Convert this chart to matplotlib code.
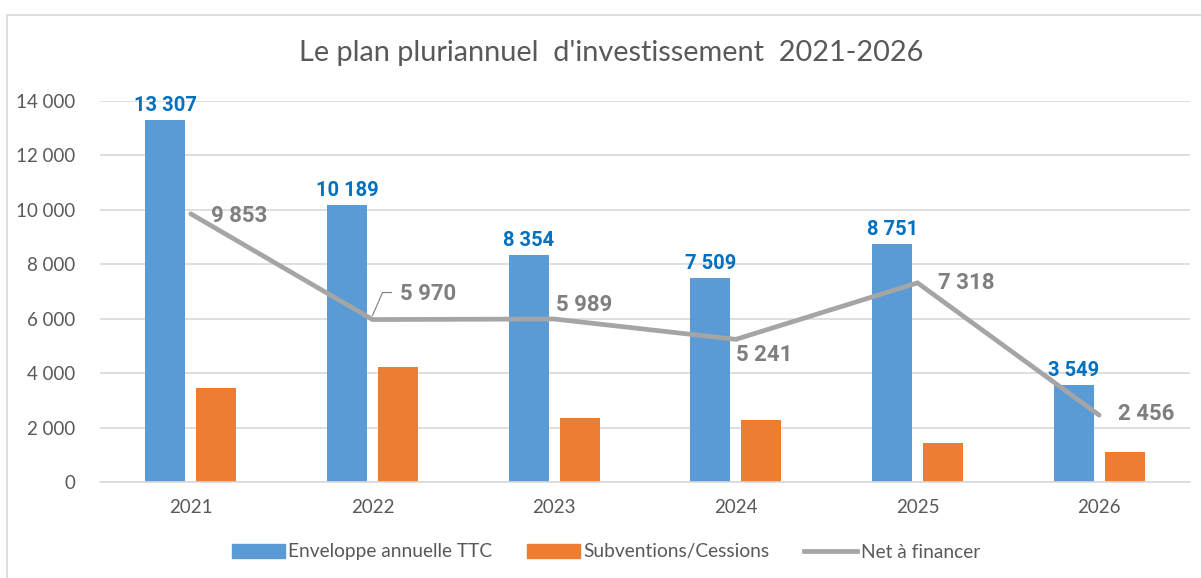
import matplotlib
matplotlib.use("Agg")
import matplotlib.pyplot as plt
import matplotlib.transforms as mtransforms
from matplotlib.lines import Line2D
from matplotlib.patches import Patch, Rectangle
import numpy as np

plt.rcParams['font.family'] = ['Lato', 'DejaVu Sans']

years = ['2021', '2022', '2023', '2024', '2025', '2026']
enveloppe = [13307, 10189, 8354, 7509, 8751, 3549]
subventions = [3454, 4219, 2365, 2268, 1433, 1093]
net = [9853, 5970, 5989, 5241, 7318, 2456]
yticks = [0, 2000, 4000, 6000, 8000, 10000, 12000, 14000]

BLUE = '#5B9BD5'
ORANGE = '#ED7D31'
GRAY = '#A5A5A5'
TXT = '#595959'
LBLUE = '#0070C0'
LGRAY = '#7F7F7F'

def fmt(v):
    return f"{v:,}".replace(',', ' ')

fig = plt.figure(figsize=(12.01, 5.78), dpi=100)
ax = fig.add_axes([100/1201, 1-482/578, 1090/1201, 381/578])

# figure border
fig.patches.append(Rectangle((7/1201, -0.05), 1.2, (578-15)/578 + 0.05, transform=fig.transFigure,
                             fill=False, edgecolor='#D9D9D9', linewidth=1.2))

x = np.arange(len(years))
w = 0.22
off = 0.14
ax.bar(x - off, enveloppe, w, color=BLUE, zorder=2, label='Enveloppe annuelle TTC')
ax.bar(x + off, subventions, w, color=ORANGE, zorder=2, label='Subventions/Cessions')
ax.plot(x, net, color=GRAY, lw=3.4, zorder=3, solid_capstyle='round', solid_joinstyle='miter',
        label='Net à financer')

ax.set_xlim(-0.5, len(years) - 0.5)
ax.set_ylim(0, 14000)
ax.set_yticks(yticks)
ax.set_yticklabels([fmt(v) for v in yticks])
ax.set_xticks(x)
ax.set_xticklabels(years)
ax.tick_params(axis='both', length=0, labelsize=13.5, colors=TXT)
ax.tick_params(axis='y', pad=18)
ax.tick_params(axis='x', pad=12)
ax.yaxis.grid(True, color='#D9D9D9', lw=1.2, zorder=0)
ax.set_axisbelow(True)
for s in ['top', 'right', 'left']:
    ax.spines[s].set_visible(False)
ax.spines['bottom'].set_color('#D9D9D9')
ax.spines['bottom'].set_linewidth(1.2)

LBL_FONT = ['Roboto', 'DejaVu Sans']

# blue labels
for xi, v in zip(x, enveloppe):
    ax.annotate(fmt(v), (xi - off, v), xytext=(0, 5), textcoords='offset pixels',
                ha='center', va='bottom', fontsize=14.5, fontweight='bold', color=LBLUE,
                family=LBL_FONT, annotation_clip=False)

# gray labels (pixel offsets from point)
offsets = [(20, -2), (28, 26), (2, 14), (0, -16), (21, 0), (19, 1)]
for xi, v, (dx, dy) in zip(x, net, offsets):
    ax.annotate(fmt(v), (xi, v), xytext=(dx, dy), textcoords='offset pixels',
                ha='left', va='center', fontsize=16, fontweight='bold', color=LGRAY,
                family=LBL_FONT, annotation_clip=False, zorder=4)

# leader line for the 2022 label
tr = mtransforms.ScaledTranslation(x[1], net[1], ax.transData)
ax.add_line(Line2D([0, 10, 19], [4, 27, 27], transform=tr, color=LGRAY, lw=0.8, clip_on=False))

fig.text(611/1201, 1-53/578, "Le plan pluriannuel  d'investissement  2021-2026",
         ha='center', va='center', fontsize=20.8, color=TXT)

handles = [Patch(color=BLUE), Patch(color=ORANGE), Line2D([], [], color=GRAY, lw=3.4)]
labels = ['Enveloppe annuelle TTC', 'Subventions/Cessions', 'Net à financer']
fig.legend(handles, labels, loc='center', bbox_to_anchor=(606/1201, 1-552/578), ncol=3,
           frameon=False, fontsize=13.8, labelcolor=TXT, handlelength=2.75, handleheight=0.7,
           handletextpad=0.2, columnspacing=1.8)

fig.savefig('out.png', dpi=100)
